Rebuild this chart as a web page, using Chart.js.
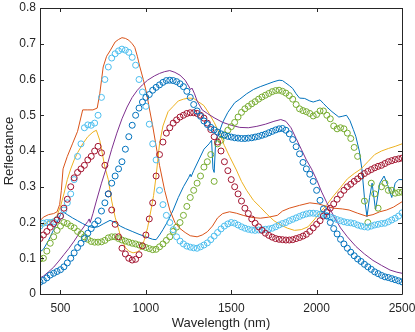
<!DOCTYPE html>
<html>
<head>
<meta charset="utf-8">
<script src="https://cdn.jsdelivr.net/npm/chart.js@4.4.1/dist/chart.umd.min.js"></script>
<style>
    body { margin: 0; background: #fff; }
    #wrap { width: 415px; height: 332px; }
</style>
</head>
<body>
<div id="wrap"><canvas id="reflectanceChart" width="415" height="332"></canvas></div>
<script>
// Axis ticks
const xTicks = [500, 1000, 1500, 2000, 2500];
const yTicks = [0, 0.1, 0.2, 0.3, 0.4, 0.5, 0.6, 0.7, 0.8];

// Measured spectra (circles), sampled every 20 nm
const circleNm = [
    380, 400, 420, 440, 460, 480, 500, 520, 540, 560,
    580, 600, 620, 640, 660, 680, 700, 720, 740, 760,
    780, 800, 820, 840, 860, 880, 900, 920, 940, 960,
    980, 1000, 1020, 1040, 1060, 1080, 1100, 1120, 1140, 1160,
    1180, 1200, 1220, 1240, 1260, 1280, 1300, 1320, 1340, 1360,
    1380, 1400, 1420, 1440, 1460, 1480, 1500, 1520, 1540, 1560,
    1580, 1600, 1620, 1640, 1660, 1680, 1700, 1720, 1740, 1760,
    1780, 1800, 1820, 1840, 1860, 1880, 1900, 1920, 1940, 1960,
    1980, 2000, 2020, 2040, 2060, 2080, 2100, 2120, 2140, 2160,
    2180, 2200, 2220, 2240, 2260, 2280, 2300, 2320, 2340, 2360,
    2380, 2400, 2420, 2440, 2460, 2480, 2500
];
const greenCircles = [
    0.098, 0.1, 0.12, 0.142, 0.16, 0.178, 0.19, 0.2, 0.197, 0.19,
    0.185, 0.175, 0.168, 0.16, 0.153, 0.147, 0.145, 0.145, 0.146, 0.15,
    0.157, 0.16, 0.16, 0.155, 0.151, 0.148, 0.145, 0.142, 0.14, 0.137,
    0.133, 0.13, 0.127, 0.124, 0.125, 0.132, 0.14, 0.15, 0.16, 0.175,
    0.187, 0.2, 0.22, 0.245, 0.27, 0.29, 0.31, 0.33, 0.355, 0.37,
    0.39, 0.315, 0.42, 0.43, 0.445, 0.458, 0.468, 0.48, 0.495, 0.508,
    0.518, 0.525, 0.532, 0.538, 0.545, 0.551, 0.556, 0.561, 0.566, 0.569,
    0.57, 0.567, 0.562, 0.555, 0.545, 0.53, 0.518, 0.513, 0.51, 0.505,
    0.498, 0.502, 0.512, 0.512, 0.5, 0.49, 0.47, 0.462, 0.465, 0.462,
    0.45, 0.435, 0.41, 0.385, 0.33, 0.26, 0.2, 0.31, 0.28, 0.24,
    0.3, 0.31, 0.29, 0.29, 0.282, 0.284, 0.285
];
const lightBlueCircles = [
    0.19, 0.198, 0.2, 0.2, 0.202, 0.208, 0.218, 0.235, 0.255, 0.28,
    0.32, 0.385, 0.42, 0.465, 0.473, 0.472, 0.478, 0.5, 0.55, 0.6,
    0.635, 0.66, 0.672, 0.68, 0.685, 0.682, 0.676, 0.662, 0.64, 0.6,
    0.565, 0.525, 0.475, 0.42, 0.375, 0.29, 0.25, 0.22, 0.2, 0.18,
    0.16, 0.148, 0.14, 0.134, 0.131, 0.129, 0.128, 0.132, 0.137, 0.143,
    0.152, 0.162, 0.172, 0.182, 0.19, 0.196, 0.2, 0.198, 0.193, 0.188,
    0.184, 0.181, 0.179, 0.178, 0.179, 0.18, 0.181, 0.182, 0.184, 0.188,
    0.193, 0.197, 0.2, 0.205, 0.209, 0.213, 0.217, 0.221, 0.224, 0.226,
    0.226, 0.225, 0.223, 0.221, 0.219, 0.215, 0.212, 0.208, 0.205, 0.202,
    0.2, 0.199, 0.197, 0.193, 0.19, 0.188, 0.187, 0.19, 0.193, 0.195,
    0.197, 0.198, 0.202, 0.207, 0.212, 0.218, 0.227
];
const darkRedCircles = [
    0.155, 0.165, 0.175, 0.187, 0.197, 0.207, 0.218, 0.24, 0.265, 0.3,
    0.325, 0.34, 0.35, 0.36, 0.375, 0.385, 0.4, 0.413, 0.395, 0.36,
    0.28, 0.235, 0.195, 0.16, 0.128, 0.112, 0.1, 0.095, 0.097, 0.11,
    0.135, 0.165, 0.21, 0.255, 0.33, 0.39, 0.425, 0.45, 0.465, 0.478,
    0.487, 0.495, 0.5, 0.505, 0.507, 0.507, 0.505, 0.5, 0.492, 0.478,
    0.46, 0.44, 0.425, 0.4, 0.37, 0.345, 0.32, 0.3, 0.28, 0.26,
    0.24, 0.225, 0.21, 0.198, 0.188, 0.178, 0.17, 0.164, 0.159, 0.155,
    0.153, 0.152, 0.151, 0.151, 0.152, 0.155, 0.158, 0.162, 0.167, 0.175,
    0.185, 0.195, 0.205, 0.218, 0.23, 0.24, 0.252, 0.265, 0.278, 0.29,
    0.3, 0.307, 0.315, 0.322, 0.33, 0.337, 0.343, 0.348, 0.353, 0.357,
    0.36, 0.365, 0.37, 0.373, 0.376, 0.378, 0.38
];
const blueCircles = [
    0.033, 0.038, 0.045, 0.053, 0.058, 0.063, 0.068, 0.076, 0.087, 0.1,
    0.115, 0.13, 0.142, 0.155, 0.17, 0.183, 0.195, 0.205, 0.232, 0.255,
    0.28, 0.31, 0.33, 0.35, 0.37, 0.405, 0.44, 0.472, 0.5, 0.52,
    0.537, 0.55, 0.558, 0.57, 0.578, 0.585, 0.592, 0.597, 0.598, 0.597,
    0.594, 0.588, 0.58, 0.567, 0.55, 0.53, 0.512, 0.497, 0.484, 0.474,
    0.466, 0.459, 0.453, 0.448, 0.444, 0.441, 0.439, 0.437, 0.436, 0.435,
    0.435, 0.436, 0.437, 0.439, 0.441, 0.444, 0.447, 0.451, 0.455, 0.459,
    0.462, 0.463, 0.458, 0.448, 0.432, 0.412, 0.392, 0.368, 0.35, 0.335,
    0.315, 0.29, 0.262, 0.238, 0.218, 0.2, 0.183, 0.168, 0.153, 0.14,
    0.128, 0.117, 0.107, 0.098, 0.091, 0.083, 0.076, 0.069, 0.062, 0.057,
    0.052, 0.048, 0.046, 0.043, 0.04, 0.037, 0.034
];

// Modelled spectra (lines)
const blueLineNm = [380, 400, 430, 460, 480, 500, 515, 540, 570, 600, 630, 660, 690, 720, 750, 790, 820, 850, 880, 920, 960, 1000, 1040, 1060, 1080, 1100, 1130, 1160, 1190, 1220, 1250, 1260, 1265, 1280, 1310, 1340, 1370, 1385, 1393, 1400, 1408, 1420, 1450, 1480, 1520, 1550, 1590, 1630, 1670, 1710, 1750, 1780, 1800, 1820, 1840, 1860, 1880, 1900, 1930, 1960, 1980, 2000, 2020, 2040, 2060, 2090, 2130, 2150, 2175, 2195, 2215, 2230, 2250, 2265, 2280, 2295, 2310, 2325, 2345, 2370, 2395, 2420, 2440, 2460, 2480, 2500];
const blueLine = [0.118, 0.125, 0.15, 0.18, 0.2, 0.222, 0.23, 0.222, 0.213, 0.205, 0.197, 0.19, 0.186, 0.188, 0.196, 0.206, 0.2, 0.19, 0.183, 0.175, 0.167, 0.16, 0.153, 0.152, 0.165, 0.18, 0.205, 0.235, 0.27, 0.3, 0.325, 0.335, 0.328, 0.345, 0.375, 0.405, 0.42, 0.43, 0.35, 0.34, 0.42, 0.44, 0.48, 0.508, 0.535, 0.545, 0.56, 0.572, 0.58, 0.587, 0.594, 0.598, 0.597, 0.59, 0.583, 0.575, 0.56, 0.548, 0.547, 0.54, 0.537, 0.54, 0.543, 0.533, 0.523, 0.51, 0.495, 0.497, 0.5, 0.485, 0.46, 0.44, 0.4, 0.35, 0.27, 0.216, 0.27, 0.31, 0.235, 0.31, 0.33, 0.3, 0.27, 0.31, 0.32, 0.32];

const orangeLineNm = [380, 400, 430, 460, 480, 495, 505, 515, 540, 570, 600, 630, 660, 690, 715, 730, 750, 770, 790, 820, 840, 860, 880, 900, 920, 935, 950, 965, 985, 1005, 1020, 1040, 1065, 1080, 1110, 1140, 1170, 1200, 1230, 1260, 1300, 1330, 1360, 1390, 1420, 1450, 1490, 1530, 1570, 1620, 1670, 1720, 1770, 1800, 1840, 1900, 1960, 2010, 2060, 2100, 2150, 2190, 2240, 2290, 2330, 2370, 2410, 2450, 2500];
const orangeLine = [0.205, 0.215, 0.222, 0.225, 0.23, 0.25, 0.29, 0.35, 0.385, 0.42, 0.455, 0.515, 0.515, 0.515, 0.52, 0.56, 0.635, 0.665, 0.68, 0.705, 0.712, 0.717, 0.715, 0.71, 0.7, 0.69, 0.665, 0.635, 0.6, 0.56, 0.52, 0.47, 0.4, 0.36, 0.29, 0.235, 0.2, 0.183, 0.172, 0.163, 0.16, 0.165, 0.174, 0.19, 0.213, 0.225, 0.23, 0.226, 0.22, 0.214, 0.212, 0.215, 0.22, 0.232, 0.24, 0.248, 0.255, 0.252, 0.245, 0.24, 0.238, 0.235, 0.226, 0.218, 0.222, 0.23, 0.235, 0.243, 0.258];

const yellowLineNm = [380, 420, 460, 480, 500, 520, 540, 560, 580, 600, 630, 660, 690, 710, 730, 760, 780, 800, 820, 850, 880, 900, 925, 950, 970, 990, 1010, 1030, 1045, 1060, 1080, 1100, 1130, 1160, 1190, 1220, 1250, 1280, 1310, 1340, 1370, 1400, 1430, 1460, 1490, 1530, 1560, 1590, 1630, 1670, 1710, 1750, 1790, 1830, 1870, 1910, 1950, 1990, 2020, 2060, 2100, 2140, 2180, 2220, 2260, 2300, 2340, 2380, 2420, 2460, 2500];
const yellowLine = [0.187, 0.2, 0.21, 0.22, 0.245, 0.28, 0.32, 0.35, 0.375, 0.395, 0.42, 0.44, 0.453, 0.458, 0.43, 0.355, 0.32, 0.26, 0.215, 0.165, 0.13, 0.12, 0.115, 0.118, 0.125, 0.15, 0.185, 0.235, 0.275, 0.33, 0.42, 0.47, 0.51, 0.525, 0.54, 0.545, 0.548, 0.547, 0.537, 0.527, 0.505, 0.48, 0.45, 0.415, 0.385, 0.347, 0.315, 0.29, 0.262, 0.243, 0.223, 0.205, 0.193, 0.184, 0.178, 0.18, 0.188, 0.21, 0.228, 0.25, 0.275, 0.298, 0.322, 0.337, 0.35, 0.37, 0.39, 0.4, 0.407, 0.413, 0.42];

const purpleLineNm = [380, 400, 430, 460, 490, 520, 550, 580, 610, 640, 660, 668, 674, 690, 710, 740, 770, 800, 830, 860, 890, 920, 950, 980, 1010, 1050, 1080, 1110, 1140, 1170, 1200, 1230, 1250, 1262, 1270, 1285, 1300, 1330, 1360, 1400, 1450, 1500, 1550, 1600, 1650, 1700, 1750, 1790, 1820, 1850, 1880, 1910, 1940, 1970, 2000, 2030, 2060, 2100, 2140, 2180, 2230, 2280, 2330, 2380, 2430, 2470, 2500];
const purpleLine = [0.045, 0.05, 0.062, 0.075, 0.092, 0.11, 0.128, 0.148, 0.17, 0.19, 0.203, 0.21, 0.2, 0.225, 0.26, 0.31, 0.355, 0.405, 0.45, 0.49, 0.523, 0.55, 0.57, 0.585, 0.598, 0.61, 0.617, 0.622, 0.625, 0.62, 0.612, 0.598, 0.582, 0.572, 0.576, 0.56, 0.54, 0.515, 0.505, 0.493, 0.48, 0.472, 0.466, 0.465, 0.469, 0.475, 0.483, 0.488, 0.483, 0.465, 0.435, 0.405, 0.375, 0.35, 0.32, 0.285, 0.255, 0.218, 0.185, 0.16, 0.133, 0.112, 0.094, 0.08, 0.067, 0.061, 0.058];

// Pair wavelengths with values
function toPoints(nm, vals) {
    return nm.map((x, i) => ({ x: x, y: vals[i] }));
}

function circleSet(vals, color) {
    return {
        data: toPoints(circleNm, vals),
        showLine: false,
        borderColor: color,
        backgroundColor: 'rgba(0,0,0,0)',
        pointRadius: 3,
        pointBorderWidth: 1,
        pointStyle: 'circle'
    };
}

function lineSet(nm, vals, color) {
    return {
        data: toPoints(nm, vals),
        showLine: true,
        borderColor: color,
        borderWidth: 1,
        pointRadius: 0,
        tension: 0,
        fill: false
    };
}

const fontFamily = '"Liberation Sans", Arial, Helvetica, sans-serif';
const axisColor = '#262626';

// Box with inward ticks on all four sides, like the original axes
const axisBox = {
    id: 'axisBox',
    afterDatasetsDraw(chart) {
        const { ctx, chartArea, scales } = chart;
        const { left, right, top, bottom } = chartArea;
        const tick = 4;
        ctx.save();
        ctx.strokeStyle = axisColor;
        ctx.lineWidth = 1;
        ctx.beginPath();
        ctx.rect(Math.round(left) + 0.5, Math.round(top) + 0.5, Math.round(right - left), Math.round(bottom - top));
        xTicks.forEach(v => {
            const px = Math.round(scales.x.getPixelForValue(v)) + 0.5;
            ctx.moveTo(px, bottom);
            ctx.lineTo(px, bottom - tick);
            ctx.moveTo(px, top);
            ctx.lineTo(px, top + tick);
        });
        yTicks.forEach(v => {
            const py = Math.round(scales.y.getPixelForValue(v)) + 0.5;
            ctx.moveTo(left, py);
            ctx.lineTo(left + tick, py);
            ctx.moveTo(right, py);
            ctx.lineTo(right - tick, py);
        });
        ctx.stroke();
        ctx.restore();
    }
};

const ctx = document.getElementById('reflectanceChart').getContext('2d');
const reflectanceChart = new Chart(ctx, {
    type: 'scatter',
    data: {
        datasets: [
            circleSet(blueCircles, '#0072BD'),
            circleSet(darkRedCircles, '#A2142F'),
            circleSet(lightBlueCircles, '#4DBEEE'),
            circleSet(greenCircles, '#77AC30'),
            lineSet(purpleLineNm, purpleLine, '#7E2F8E'),
            lineSet(yellowLineNm, yellowLine, '#EDB120'),
            lineSet(orangeLineNm, orangeLine, '#D95319'),
            lineSet(blueLineNm, blueLine, '#0072BD')
        ]
    },
    options: {
        responsive: false,
        animation: false,
        devicePixelRatio: 1,
        layout: { padding: { top: 8, right: 0, left: 0, bottom: 0 } },
        plugins: {
            legend: { display: false },
            tooltip: { enabled: false }
        },
        scales: {
            x: {
                type: 'linear',
                min: 380,
                max: 2500,
                grid: { display: false, drawTicks: false },
                border: { display: false },
                afterFit: scale => {
                    scale.height = 38;
                    scale.paddingLeft = 0;
                    scale.paddingRight = 13;
                },
                afterBuildTicks: scale => { scale.ticks = xTicks.map(v => ({ value: v })); },
                ticks: {
                    color: axisColor,
                    padding: 7,
                    maxRotation: 0,
                    font: { family: fontFamily, size: 12 },
                    callback: v => String(v)
                },
                title: {
                    display: true,
                    text: 'Wavelength (nm)',
                    color: axisColor,
                    padding: { top: 0, bottom: 1 },
                    font: { family: fontFamily, size: 13 }
                }
            },
            y: {
                type: 'linear',
                min: 0,
                max: 0.8,
                grid: { display: false, drawTicks: false },
                border: { display: false },
                afterFit: scale => {
                    scale.width = 40;
                    scale.paddingTop = 0;
                    scale.paddingBottom = 0;
                },
                afterBuildTicks: scale => { scale.ticks = yTicks.map(v => ({ value: v })); },
                ticks: {
                    color: axisColor,
                    padding: 4,
                    font: { family: fontFamily, size: 12 },
                    callback: v => String(Math.round(v * 10) / 10)
                },
                title: {
                    display: true,
                    text: 'Reflectance',
                    color: axisColor,
                    padding: { top: 2, bottom: 0 },
                    font: { family: fontFamily, size: 13 }
                }
            }
        }
    },
    plugins: [axisBox]
});
</script>
</body>
</html>
